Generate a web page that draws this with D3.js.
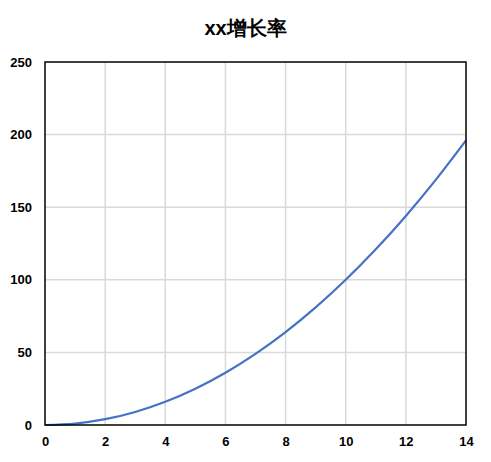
<!DOCTYPE html>
<html>
<head>
<meta charset="utf-8">
<script src="https://cdn.jsdelivr.net/npm/d3@7"></script>
<style>
  body { margin: 0; background: #fff; }
  text { font-family: "Liberation Sans", Arial, sans-serif; }
</style>
</head>
<body>
<div id="chart"></div>
<script>
const title = "xx增长率"
const xValues = [0, 1, 2, 3, 4, 5, 6, 7, 8, 9, 10, 11, 12, 13, 14]
const yValues = [0, 1, 4, 9, 16, 25, 36, 49, 64, 81, 100, 121, 144, 169, 196]
const xTicks = [0, 2, 4, 6, 8, 10, 12, 14]
const yTicks = [0, 50, 100, 150, 200, 250]

const width = 491, height = 462
const margin = { top: 62, right: 25, bottom: 37, left: 45 }

const svg = d3.select("#chart").append("svg")
   .attr("width", width)
   .attr("height", height)

const x = d3.scaleLinear().domain([0, 14]).range([margin.left, width - margin.right])
const y = d3.scaleLinear().domain([0, 250]).range([height - margin.bottom, margin.top])

// grid
svg.append("g").selectAll("line.vg")
   .data(xTicks.slice(1, -1))
   .enter().append("line")
   .attr("x1", d => x(d)).attr("x2", d => x(d))
   .attr("y1", y(0)).attr("y2", y(250))
   .attr("stroke", "#d9d9d9").attr("stroke-width", 1.5)

svg.append("g").selectAll("line.hg")
   .data(yTicks.slice(1, -1))
   .enter().append("line")
   .attr("x1", x(0)).attr("x2", x(14))
   .attr("y1", d => y(d)).attr("y2", d => y(d))
   .attr("stroke", "#d9d9d9").attr("stroke-width", 1.5)

// axes labels
const xAxis = svg.append("g")
   .attr("transform", `translate(0,${y(0)})`)
   .call(d3.axisBottom(x).tickValues(xTicks).tickSize(0).tickPadding(12))
xAxis.select(".domain").remove()
xAxis.selectAll("text").attr("font-size", 13).attr("font-weight", "bold").attr("fill", "#000")
   .attr("font-family", "'Liberation Sans', Arial, sans-serif")

const yAxis = svg.append("g")
   .attr("transform", `translate(${x(0)},0)`)
   .call(d3.axisLeft(y).tickValues(yTicks).tickSize(0).tickPadding(13))
yAxis.select(".domain").remove()
yAxis.selectAll("text").attr("font-size", 13).attr("font-weight", "bold").attr("fill", "#000")
   .attr("font-family", "'Liberation Sans', Arial, sans-serif")

// curve
const data = xValues.map((d, i) => [d, yValues[i]])
svg.append("path")
   .datum(data)
   .attr("fill", "none")
   .attr("stroke", "#4472c4")
   .attr("stroke-width", 2.2)
   .attr("d", d3.line().x(d => x(d[0])).y(d => y(d[1])).curve(d3.curveMonotoneX))

// frame
svg.append("rect")
   .attr("x", x(0)).attr("y", y(250))
   .attr("width", x(14) - x(0)).attr("height", y(0) - y(250))
   .attr("fill", "none").attr("stroke", "#000").attr("stroke-width", 1.5)

svg.append("text")
   .attr("x", width / 2).attr("y", 35)
   .attr("text-anchor", "middle")
   .attr("font-size", 20).attr("font-weight", "bold")
   .attr("font-family", "'Liberation Sans', 'Noto Sans CJK SC', sans-serif")
   .text(title)
</script>
</body>
</html>
